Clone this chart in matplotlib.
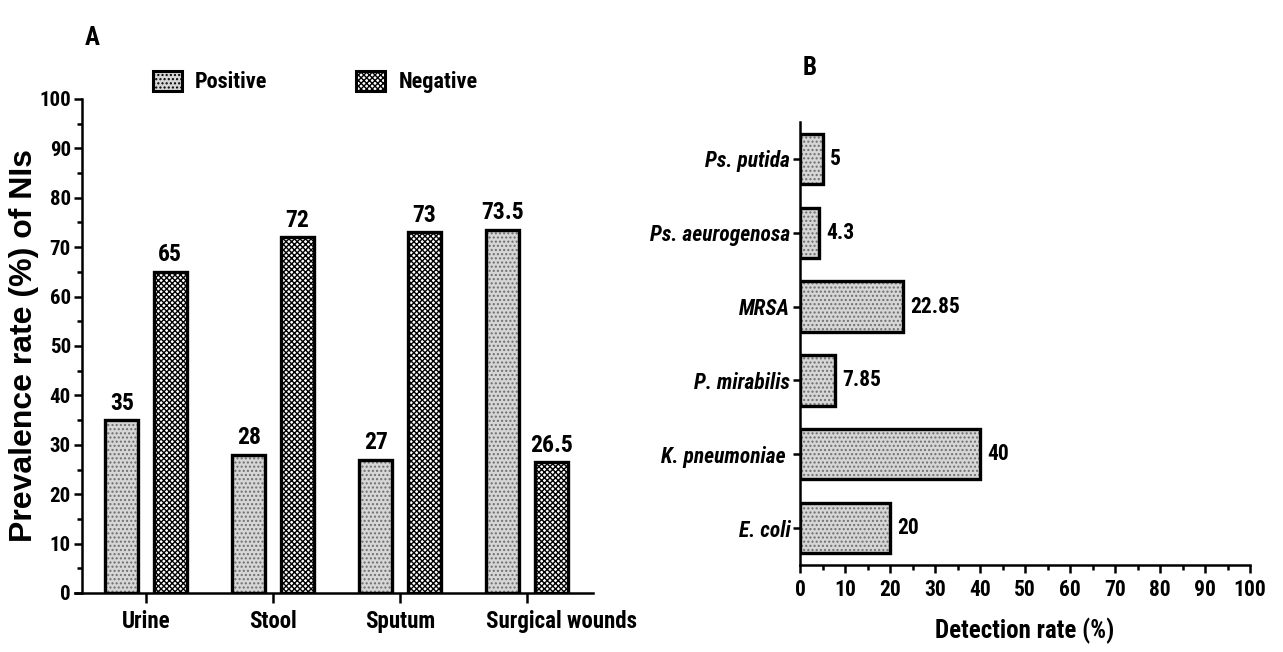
import matplotlib
matplotlib.use("Agg")
import matplotlib.pyplot as plt
from matplotlib import font_manager
from matplotlib.patches import Patch
from matplotlib.ticker import MultipleLocator
from matplotlib.transforms import ScaledTranslation
import numpy as np

# ---------------- data ----------------
sites = ["Urine", "Stool", "Sputum", "Surgical wounds"]
positive = [35, 28, 27, 73.5]
negative = [65, 72, 73, 26.5]
positive_labels = ["35", "28", "27", "73.5"]
negative_labels = ["65", "72", "73", "26.5"]

organisms = ["E. coli", "K. pneumoniae ", "P. mirabilis", "MRSA", "Ps. aeurogenosa", "Ps. putida"]
detection = [20, 40, 7.85, 22.85, 4.3, 5]
detection_labels = ["20", "40", "7.85", "22.85", "4.3", "5"]

# ---------------- fonts ----------------
ttf = font_manager.fontManager.ttflist


def has_face(name, style, minw=600):
    for f in ttf:
        w = f.weight if isinstance(f.weight, int) else 400
        if f.name == name and f.style == style and w >= minw:
            return True
    return False


NARROW_CANDIDATES = ["Liberation Sans Narrow", "Arial Narrow", "Archivo Narrow",
                     "Roboto Condensed", "PT Sans Narrow", "IBM Plex Sans Condensed",
                     "Fira Sans Condensed", "Encode Sans Condensed", "Asap Condensed"]
NARROW = None
for c in NARROW_CANDIDATES:
    if has_face(c, "normal") and has_face(c, "italic"):
        NARROW = c
        break
if NARROW is None:
    for c in NARROW_CANDIDATES:
        if has_face(c, "normal"):
            NARROW = c
            break
if NARROW is None:
    NARROW = "Liberation Sans"
WIDE = "Liberation Sans"
plt.rcParams["font.family"] = [NARROW, "DejaVu Sans"]
plt.rcParams["font.weight"] = "bold"
plt.rcParams["hatch.linewidth"] = 1.0

W, H = 1283, 652
fig = plt.figure(figsize=(W / 100, H / 100), dpi=100)
fig.patch.set_facecolor("white")

POS_FACE = "#d6d6d6"
POS_HATCH_COL = "#6e6e6e"
NEG_FACE = "white"
NEG_HATCH_COL = "black"
SPINE_LW = 1.8
BAR_LW = 2.4

# ---------------- Panel A ----------------
axA = fig.add_axes([75 / W, 1 - 593 / H, 518 / W, (593 - 99) / H])
x = np.arange(len(sites))
off = 0.19
bw = 0.26
for vals, dx, face, hcol, hatch in [
    (positive, -off, POS_FACE, POS_HATCH_COL, "...."),
    (negative, off, NEG_FACE, NEG_HATCH_COL, "xxxxxx"),
]:
    axA.bar(x + dx, vals, bw, color=face, edgecolor=hcol, hatch=hatch, linewidth=0, zorder=2)
    axA.bar(x + dx, vals, bw, fill=False, edgecolor="black", linewidth=BAR_LW, zorder=3)

for xi, v, lab in zip(x - off, positive, positive_labels):
    axA.annotate(lab, (xi, v), xytext=(0, 4), textcoords="offset points",
                 ha="center", va="bottom", fontsize=17, fontweight="bold")
for xi, v, lab in zip(x + off, negative, negative_labels):
    axA.annotate(lab, (xi, v), xytext=(0, 4), textcoords="offset points",
                 ha="center", va="bottom", fontsize=17, fontweight="bold")

axA.set_xlim(-0.559, 3.52)
axA.set_ylim(0, 100)
axA.spines["top"].set_visible(False)
axA.spines["right"].set_visible(False)
axA.spines["left"].set_position(("axes", 7 / 518))
for s in ("left", "bottom"):
    axA.spines[s].set_linewidth(SPINE_LW)
axA.yaxis.set_major_locator(MultipleLocator(10))
axA.yaxis.set_minor_locator(MultipleLocator(5))
axA.set_xticks(x)
axA.set_xticklabels(sites)
axA.tick_params(axis="y", which="major", length=6, width=SPINE_LW, labelsize=15, pad=2)
axA.tick_params(axis="y", which="minor", length=3.5, width=SPINE_LW)
axA.tick_params(axis="x", which="major", length=7, width=SPINE_LW, labelsize=16.5, pad=5)
for t in axA.get_xticklabels() + axA.get_yticklabels():
    t.set_fontweight("bold")
# the last category label sits to the right of its tick in the reference
last = axA.get_xticklabels()[-1]
last.set_transform(last.get_transform() + ScaledTranslation(35 / 100, 0, fig.dpi_scale_trans))
axA.set_ylabel("Prevalence rate (%) of NIs", fontsize=23, fontweight="bold",
               family=[WIDE, "DejaVu Sans"])
axA.yaxis.set_label_coords(-0.07, 0.5)

fig.text(92 / W, 1 - 38 / H, "A", fontsize=18, fontweight="bold", ha="center", va="center")

handles = [
    Patch(facecolor=POS_FACE, edgecolor="black", hatch="....", linewidth=2.2),
    Patch(facecolor=NEG_FACE, edgecolor="black", hatch="xxxxxx", linewidth=2.2),
]
fig.legend(handles, ["Positive", "Negative"], loc="center left",
           bbox_to_anchor=(153 / W, 1 - 82 / H), ncol=2, frameon=False,
           prop={"weight": "bold", "size": 16},
           handlelength=1.3, handleheight=1.0, handletextpad=0.6,
           columnspacing=4.0, borderpad=0, borderaxespad=0)

# ---------------- Panel B ----------------
axB = fig.add_axes([800 / W, 1 - 565 / H, 450 / W, (565 - 122) / H])
y = np.arange(len(organisms))
bh = 0.68
axB.barh(y, detection, bh, color=POS_FACE, edgecolor=POS_HATCH_COL, hatch="....", linewidth=0, zorder=2)
axB.barh(y, detection, bh, fill=False, edgecolor="black", linewidth=BAR_LW, zorder=3)
for yi, v, lab in zip(y, detection, detection_labels):
    axB.annotate(lab, (v, yi), xytext=(5, 0), textcoords="offset points",
                 ha="left", va="center", fontsize=15.5, fontweight="bold")
axB.set_xlim(0, 100)
axB.set_ylim(-0.5, 5.5)
axB.spines["top"].set_visible(False)
axB.spines["right"].set_visible(False)
for s in ("left", "bottom"):
    axB.spines[s].set_linewidth(SPINE_LW)
axB.xaxis.set_major_locator(MultipleLocator(10))
axB.xaxis.set_minor_locator(MultipleLocator(5))
axB.set_yticks(y)
axB.set_yticklabels(organisms)
axB.tick_params(axis="x", which="major", length=6, width=SPINE_LW, labelsize=15.5, pad=4)
axB.tick_params(axis="x", which="minor", length=3.5, width=SPINE_LW)
axB.tick_params(axis="y", which="major", length=5, width=SPINE_LW, labelsize=15.5, pad=2)
for t in axB.get_xticklabels():
    t.set_fontweight("bold")
for t in axB.get_yticklabels():
    t.set_fontweight("bold")
    t.set_fontstyle("italic")
axB.set_xlabel("Detection rate (%)", fontsize=18, fontweight="bold", labelpad=12)

fig.text(810 / W, 1 - 68 / H, "B", fontsize=18, fontweight="bold", ha="center", va="center")

fig.savefig("out.png", dpi=100, facecolor="white")
